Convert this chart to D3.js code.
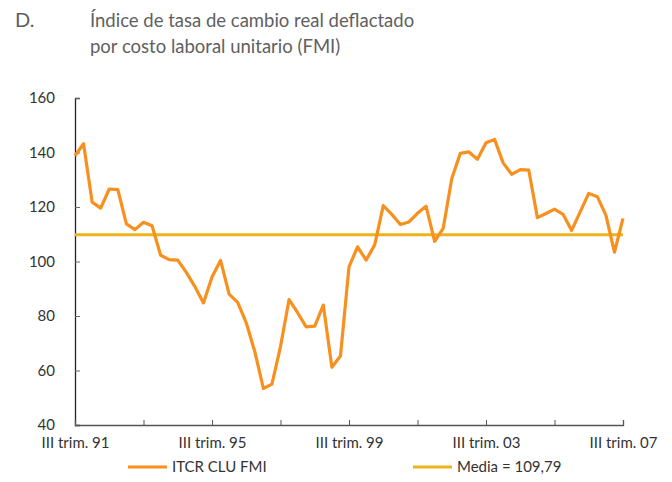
<!DOCTYPE html>
<html>
<head>
<meta charset="utf-8">
<script src="https://cdn.jsdelivr.net/npm/d3@7"></script>
<style>
  html, body { margin: 0; padding: 0; background: #fff; }
  svg { display: block; font-family: Lato, "Open Sans", sans-serif; }
</style>
</head>
<body>
<svg id="chart" width="672" height="482"></svg>
<script>
// Quarterly index, III trim. 1991 .. III trim. 2007
const itcrValues = [
  138.8, 143.2, 121.8, 119.6, 126.6, 126.4, 113.8, 111.7, 114.4, 113.1,
  102.3, 100.7, 100.5, 96.0, 90.8, 84.8, 94.3, 100.4, 88.0, 85.0,
  77.5, 66.9, 53.4, 55.0, 68.8, 86.0, 81.2, 76.0, 76.3, 84.0,
  61.2, 65.3, 98.0, 105.4, 100.5, 106.1, 120.5, 117.3, 113.6, 114.5,
  117.7, 120.3, 107.4, 112.2, 130.4, 139.7, 140.2, 137.5, 143.6, 144.8,
  136.2, 132.0, 133.7, 133.5, 116.1, 117.6, 119.2, 117.3, 111.4, 118.2,
  125.0, 123.8, 117.0, 103.4, 115.8
];
const meanValue = 109.79;
const yTicks = [40, 60, 80, 100, 120, 140, 160];
const xLabelYears = ["91", "95", "99", "03", "07"];
const seriesNames = ["ITCR CLU FMI", "Media = 109,79"];
const seriesColors = ["#F7901E", "#EDB31A"];

const svg = d3.select("#chart");
const margin = { left: 75, right: 49, top: 98, bottom: 57 };
const W = 672, H = 482;

const n = itcrValues.length;
const x = d3.scaleLinear().domain([0, n - 1]).range([margin.left, W - margin.right]);
const y = d3.scaleLinear().domain([40, 160]).range([H - margin.bottom, margin.top]);

// Title
const title = svg.append("g").attr("fill", "#606060").style("font-size", "18.5px");
title.append("text").attr("x", 15).attr("y", 27).style("font-size", "20px").text("D.");
title.append("text").attr("x", 90).attr("y", 27).text("Índice de tasa de cambio real deflactado");
title.append("text").attr("x", 90).attr("y", 53).text("por costo laboral unitario (FMI)");

// Y axis
const yAxis = d3.axisLeft(y).tickValues(yTicks).tickSize(-5).tickPadding(20);
const gy = svg.append("g").attr("transform", `translate(${margin.left},0)`).call(yAxis);
gy.select(".domain").attr("stroke", "#222").attr("stroke-width", 1.3);
gy.selectAll(".tick line").attr("stroke", "#666");
gy.selectAll("text").attr("fill", "#333").style("font-size", "15px").style("font-family", "Lato, sans-serif");

// X axis: ticks every 8 quarters, labels every 16
const xAxis = d3.axisBottom(x)
  .tickValues(d3.range(0, n, 8))
  .tickSize(-5)
  .tickPadding(12)
  .tickFormat(i => i % 16 === 0 ? "III trim. " + xLabelYears[i / 16] : "");
const gx = svg.append("g").attr("transform", `translate(0,${y(40)})`).call(xAxis);
gx.select(".domain").attr("stroke", "#555").attr("stroke-width", 1.3);
gx.selectAll(".tick line").attr("stroke", "#555");
gx.selectAll("text").attr("fill", "#333").style("font-size", "15px").style("font-family", "Lato, sans-serif");

// Mean line
svg.append("line")
  .attr("x1", x(0)).attr("x2", x(n - 1))
  .attr("y1", y(meanValue)).attr("y2", y(meanValue))
  .attr("stroke", seriesColors[1]).attr("stroke-width", 3);

// Series line
const line = d3.line().x((d, i) => x(i)).y(d => y(d));
svg.append("path")
  .datum(itcrValues)
  .attr("d", line)
  .attr("fill", "none")
  .attr("stroke", seriesColors[0])
  .attr("stroke-width", 3.2)
  .attr("stroke-linejoin", "round");

// Legend
const legendX = [128, 413];
const legend = svg.append("g").style("font-size", "15px");
seriesNames.forEach((name, k) => {
  legend.append("line")
    .attr("x1", legendX[k]).attr("x2", legendX[k] + 39)
    .attr("y1", 467).attr("y2", 467)
    .attr("stroke", seriesColors[k]).attr("stroke-width", 3);
  legend.append("text")
    .attr("x", legendX[k] + 44).attr("y", 472)
    .attr("fill", "#333")
    .text(name);
});
</script>
</body>
</html>
